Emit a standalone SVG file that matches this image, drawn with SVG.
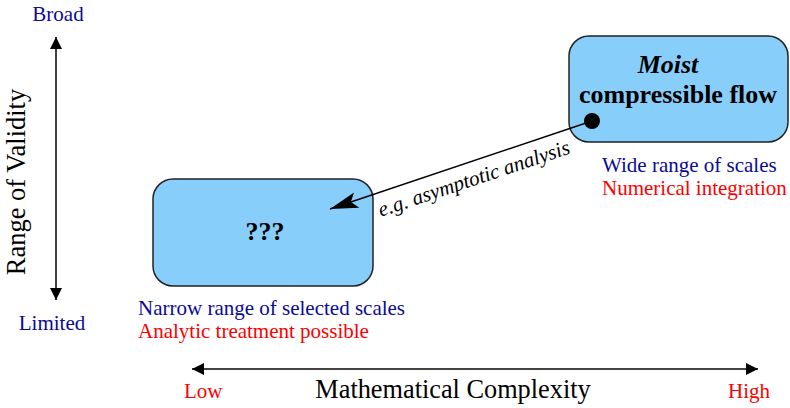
<svg xmlns="http://www.w3.org/2000/svg" width="790" height="408" viewBox="0 0 790 408">
<style>
text{font-family:"Liberation Serif","Times New Roman",serif}
.lbl{font-size:21px}
.blue{fill:#0a0a96}
.red{fill:#ff0000}
.box{fill:#87cefa;stroke:#222;stroke-width:1.5}
.big{font-size:26px;font-weight:bold;text-anchor:middle}
</style>
<defs>
<marker id="ah" markerWidth="12" markerHeight="12" refX="12" refY="6" orient="auto-start-reverse" markerUnits="userSpaceOnUse">
<path d="M0,0 L12,6 L0,12 Z" fill="#000"/>
</marker>
<marker id="ah2" markerWidth="28" markerHeight="16" refX="28" refY="8" orient="auto" markerUnits="userSpaceOnUse">
<path d="M0,0 L28,8 L0,16 L6,8 Z" fill="#000"/>
</marker>
</defs>

<g id="validity-axis">
<line x1="56" y1="37" x2="56" y2="300" stroke="#000" stroke-width="1.5" marker-start="url(#ah)" marker-end="url(#ah)"/>
<text class="lbl blue" x="58" y="21" text-anchor="middle">Broad</text>
<text class="lbl blue" x="52" y="330" text-anchor="middle">Limited</text>
<text x="25" y="182" font-size="26.5" text-anchor="middle" transform="rotate(-90 25 182)">Range of Validity</text>
</g>

<g id="complexity-axis">
<line x1="192" y1="369" x2="758" y2="369" stroke="#444" stroke-width="2.2" marker-start="url(#ah)" marker-end="url(#ah)"/>
<text class="lbl red" x="184" y="398">Low</text>
<text class="lbl red" x="770" y="398" text-anchor="end">High</text>
<text x="453" y="398" font-size="26.3" text-anchor="middle">Mathematical Complexity</text>
</g>

<g id="moist-node">
<rect class="box" x="569" y="36" width="219" height="106" rx="20" ry="20"/>
<text class="big" x="668" y="73" font-style="italic">Moist</text>
<text class="big" x="678" y="103">compressible flow</text>
<circle cx="592" cy="121" r="8" fill="#000"/>
<text class="lbl blue" x="602" y="172">Wide range of scales</text>
<text class="lbl red" x="602" y="195">Numerical integration</text>
</g>

<g id="unknown-node">
<rect class="box" x="153" y="179" width="220" height="107" rx="20" ry="20"/>
<text class="big" x="265" y="240">???</text>
<text class="lbl blue" x="138" y="315">Narrow range of selected scales</text>
<text class="lbl red" x="138" y="338">Analytic treatment possible</text>
</g>

<g id="connectors">
<line x1="592" y1="121" x2="330" y2="209" stroke="#000" stroke-width="1.5" marker-end="url(#ah2)"/>
<text x="476" y="185" font-size="21" font-style="italic" text-anchor="middle" transform="rotate(-18.5 476 185)">e.g. asymptotic analysis</text>
</g>
</svg>
